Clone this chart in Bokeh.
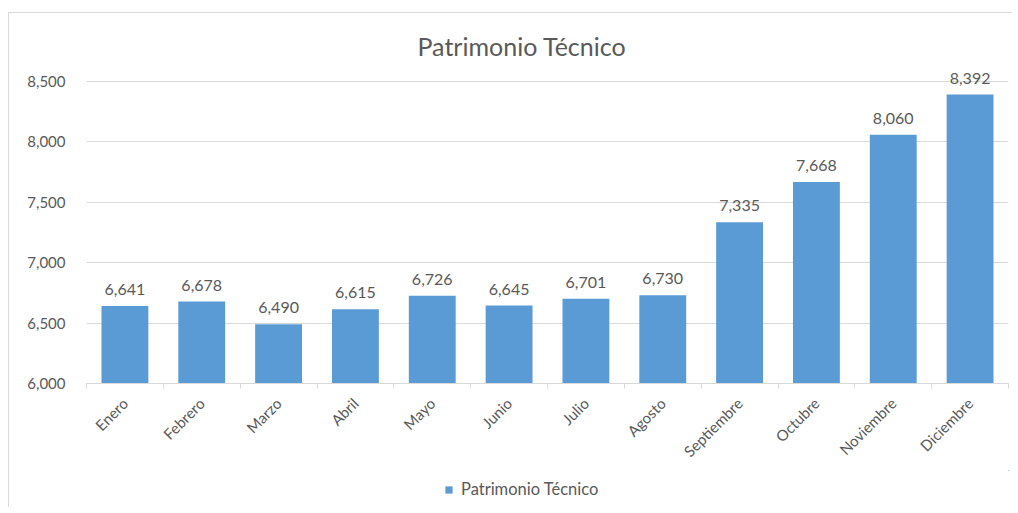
import numpy as np
from bokeh.plotting import figure
from bokeh.layouts import column
from bokeh.models import Range1d, FixedTicker, NumeralTickFormatter, ColumnDataSource, Legend, LegendItem
from bokeh.core.properties import value
from bokeh.embed import file_html
from bokeh.resources import INLINE

months = ["Enero", "Febrero", "Marzo", "Abril", "Mayo", "Junio", "Julio",
          "Agosto", "Septiembre", "Octubre", "Noviembre", "Diciembre"]
values = [6641, 6678, 6490, 6615, 6726, 6645, 6701, 6730, 7335, 7668, 8060, 8392]
y_ticks = [6000, 6500, 7000, 7500, 8000, 8500]
series_name = "Patrimonio Técnico"
title_text = "Patrimonio Técnico"

FONT = "Lato"
TXT = "#595959"
GRID = "#d9d9d9"
BAR = "#5B9BD5"

pos = list(range(len(months)))
labels = [f"{v:,}" for v in values]
src = ColumnDataSource(dict(x=pos, top=values, lab=labels))

p = figure(width=1012, height=470, output_backend="svg", toolbar_location=None,
           x_range=Range1d(-0.5, len(months) - 0.5), y_range=Range1d(6000, 8583),
           min_border_left=86, min_border_right=4, min_border_top=71, min_border_bottom=87)
p.outline_line_color = None
p.background_fill_color = "white"
p.border_fill_alpha = 0

p.vbar(x="x", top="top", bottom=6000, width=0.61, source=src, fill_color=BAR, line_color=None)
p.text(x="x", y="top", text="lab", source=src, text_align="center", text_baseline="bottom",
       y_offset=-11, text_font=value(FONT), text_font_size="16px", text_color=TXT)

# y axis
p.yaxis.ticker = FixedTicker(ticks=y_ticks)
p.yaxis.formatter = NumeralTickFormatter(format="0,0")
p.yaxis.axis_line_color = None
p.yaxis.major_tick_line_color = None
p.yaxis.minor_tick_line_color = None
p.yaxis.major_label_standoff = 15
p.yaxis.major_label_text_font = FONT
p.yaxis.major_label_text_font_size = "15px"
p.yaxis.major_label_text_color = TXT
p.ygrid.ticker = FixedTicker(ticks=y_ticks)
p.ygrid.grid_line_color = GRID
p.xgrid.grid_line_color = None

# x axis
bounds = [i - 0.5 for i in range(len(months) + 1)]
p.xaxis.ticker = FixedTicker(ticks=pos, minor_ticks=bounds)
p.xaxis.major_label_overrides = {i: m for i, m in zip(pos, months)}
p.xaxis.major_tick_line_color = None
p.xaxis.minor_tick_line_color = GRID
p.xaxis.minor_tick_in = 0
p.xaxis.minor_tick_out = 5
p.xaxis.axis_line_color = GRID
p.xaxis.axis_line_width = 1
p.xaxis.major_label_orientation = np.pi / 4
p.xaxis.major_label_standoff = 11
p.xaxis.major_label_text_font = FONT
p.xaxis.major_label_text_font_size = "15px"
p.xaxis.major_label_text_color = TXT

# title
p.title.text = title_text
p.title.text_font = FONT
p.title.text_font_size = "25px"
p.title.text_font_style = "normal"
p.title.text_color = TXT
p.title.align = "left"
p.title.offset = 331
p.title.standoff = 22

# legend strip (separate small figure under the chart; its frame aligns with the chart's)
p2 = figure(width=1012, height=37, output_backend="svg", toolbar_location=None,
            x_range=Range1d(-100, -99), y_range=Range1d(-100, -99),
            x_axis_location=None, y_axis_location=None, min_border=0)
p2.grid.visible = False
p2.outline_line_color = None
p2.background_fill_alpha = 0
p2.border_fill_alpha = 0
# same series, lying entirely outside this strip's visible range: only its legend swatch shows
r2 = p2.vbar(x="x", top="top", bottom=6000, width=0.61, source=src, fill_color=BAR, line_color=None)
lg = Legend(items=[LegendItem(label=series_name, renderers=[r2])], location=(358, 8))
lg.border_line_color = None
lg.background_fill_alpha = 0
lg.glyph_width = 9
lg.glyph_height = 9
lg.label_standoff = 8
lg.label_text_font = FONT
lg.label_text_font_size = "16.5px"
lg.label_text_color = TXT
lg.padding = 4
lg.margin = 0
p2.add_layout(lg, "center")

layout = column(p, p2, spacing=0)
layout.styles = {"box-shadow": "inset 8px 12px 0 0 white, inset 9px 13px 0 0 #d9d9d9",
                 "background-color": "white"}

open("out.html", "w").write(file_html(layout, INLINE))
